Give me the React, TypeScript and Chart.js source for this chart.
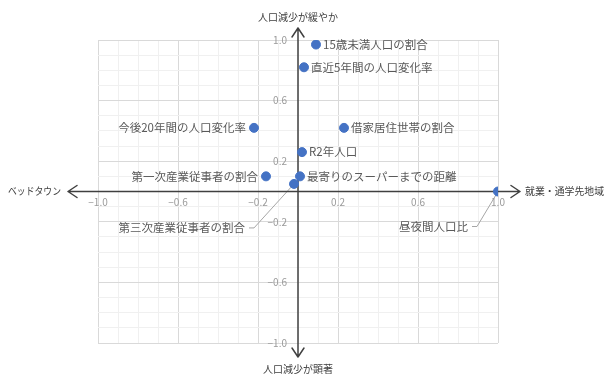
import { useEffect, useRef } from 'react';
import { Chart, registerables } from 'chart.js';

Chart.register(...registerables);

// Factor loadings: horizontal = ベッドタウン ↔ 就業・通学先地域, vertical = 人口減少が顕著 ↔ 緩やか
const factorNames = [
  '15歳未満人口の割合',
  '直近5年間の人口変化率',
  '今後20年間の人口変化率',
  '借家居住世帯の割合',
  'R2年人口',
  '第一次産業従事者の割合',
  '最寄りのスーパーまでの距離',
  '第三次産業従事者の割合',
  '昼夜間人口比',
];
const loadingX = [0.09, 0.03, -0.22, 0.23, 0.02, -0.16, 0.01, -0.02, 1.0];
const loadingY = [0.97, 0.82, 0.42, 0.42, 0.26, 0.1, 0.1, 0.05, 0.0];

const axisTickValues = [-1.0, -0.6, -0.2, 0.2, 0.6, 1.0];

const axisTitleTop = '人口減少が緩やか';
const axisTitleBottom = '人口減少が顕著';
const axisTitleLeft = 'ベッドタウン';
const axisTitleRight = '就業・通学先地域';

// Where each point's name sits relative to its marker
const labelSide: Record<string, 'left' | 'right' | 'callout'> = {
  '15歳未満人口の割合': 'right',
  '直近5年間の人口変化率': 'right',
  '今後20年間の人口変化率': 'left',
  '借家居住世帯の割合': 'right',
  'R2年人口': 'right',
  '第一次産業従事者の割合': 'left',
  '最寄りのスーパーまでの距離': 'right',
  '第三次産業従事者の割合': 'callout',
  '昼夜間人口比': 'callout',
};
// Leader-line elbows (pixel offsets from the marker) for callout labels
const calloutOffset: Record<string, { dx: number; dy: number }> = {
  '第三次産業従事者の割合': { dx: -40, dy: 44 },
  '昼夜間人口比': { dx: -21, dy: 35 },
};

const FONT = '"Noto Sans CJK JP", "Noto Sans", sans-serif';
const AXIS_COLOR = '#404040';
const TICK_COLOR = '#9a9a9a';
const LABEL_COLOR = '#595959';
const POINT_COLOR = '#4472C4';

const fmt = (v: number) => {
  const s = Math.abs(v).toFixed(1);
  return v < 0 ? '\u2212' + s : s;
};

const crossAxesPlugin = {
  id: 'crossAxes',
  beforeDatasetsDraw(chart: any) {
    const { ctx, scales } = chart;
    const xs = scales.x;
    const ys = scales.y;
    const x0 = xs.getPixelForValue(0);
    const y0 = ys.getPixelForValue(0);
    const left = xs.left - 30;
    const right = xs.right + 22;
    const top = ys.top - 12;
    const bottom = ys.bottom + 14;

    ctx.save();
    // leader lines of callout labels
    ctx.strokeStyle = '#a6a6a6';
    ctx.lineWidth = 1;
    factorNames.forEach((name, i) => {
      if (labelSide[name] !== 'callout') return;
      const px = xs.getPixelForValue(loadingX[i]);
      const py = ys.getPixelForValue(loadingY[i]);
      const o = calloutOffset[name];
      ctx.beginPath();
      ctx.moveTo(px, py);
      ctx.lineTo(px + o.dx, py + o.dy);
      ctx.lineTo(px + o.dx - 5, py + o.dy);
      ctx.stroke();
    });

    // cross axes with arrow heads
    ctx.strokeStyle = AXIS_COLOR;
    ctx.lineWidth = 1.5;
    ctx.lineCap = 'round';
    ctx.lineJoin = 'round';
    ctx.beginPath();
    ctx.moveTo(left, y0);
    ctx.lineTo(right, y0);
    ctx.moveTo(x0, top);
    ctx.lineTo(x0, bottom);
    const a = 9;
    const w = 6;
    ctx.moveTo(left + a, y0 - w);
    ctx.lineTo(left, y0);
    ctx.lineTo(left + a, y0 + w);
    ctx.moveTo(right - a, y0 - w);
    ctx.lineTo(right, y0);
    ctx.lineTo(right - a, y0 + w);
    ctx.moveTo(x0 - w, top + a);
    ctx.lineTo(x0, top);
    ctx.lineTo(x0 + w, top + a);
    ctx.moveTo(x0 - w, bottom - a);
    ctx.lineTo(x0, bottom);
    ctx.lineTo(x0 + w, bottom - a);
    ctx.stroke();

    // tick labels beside the axes
    ctx.font = `10px ${FONT}`;
    ctx.fillStyle = TICK_COLOR;
    ctx.textBaseline = 'middle';
    ctx.textAlign = 'center';
    axisTickValues.forEach((v) => {
      ctx.fillText(fmt(v), xs.getPixelForValue(v), y0 + 11);
    });
    ctx.textAlign = 'right';
    axisTickValues.forEach((v) => {
      ctx.fillText(fmt(v), x0 - 11, ys.getPixelForValue(v));
    });

    // axis end titles
    ctx.font = `10px ${FONT}`;
    ctx.fillStyle = AXIS_COLOR;
    ctx.textAlign = 'center';
    ctx.fillText(axisTitleTop, x0, top - 11);
    ctx.fillText(axisTitleBottom, x0, bottom + 12);
    ctx.textAlign = 'right';
    ctx.fillText(axisTitleLeft, left - 7, y0, 53);
    ctx.textAlign = 'left';
    ctx.fillText(axisTitleRight, right + 5, y0, 79);
    ctx.restore();
  },
  afterDatasetsDraw(chart: any) {
    const { ctx, scales } = chart;
    const xs = scales.x;
    const ys = scales.y;
    ctx.save();
    ctx.font = `11.5px ${FONT}`;
    ctx.fillStyle = LABEL_COLOR;
    ctx.textBaseline = 'middle';
    factorNames.forEach((name, i) => {
      const px = xs.getPixelForValue(loadingX[i]);
      const py = ys.getPixelForValue(loadingY[i]);
      const side = labelSide[name];
      if (side === 'right') {
        ctx.textAlign = 'left';
        ctx.fillText(name, px + 7, py);
      } else if (side === 'left') {
        ctx.textAlign = 'right';
        ctx.fillText(name, px - 8, py);
      } else {
        const o = calloutOffset[name];
        ctx.textAlign = 'right';
        ctx.fillText(name, px + o.dx - 9, py + o.dy);
      }
    });
    ctx.restore();
  },
};

const gridColor = (ctx: any) => {
  const v = Math.round(ctx.tick.value * 10);
  return (v + 10) % 4 === 0 ? '#d9d9d9' : '#f0f0f0';
};

export default function App() {
  const canvasRef = useRef<HTMLCanvasElement | null>(null);

  useEffect(() => {
    const canvas = canvasRef.current;
    if (!canvas) return;
    const points = factorNames.map((_, i) => ({ x: loadingX[i], y: loadingY[i] }));
    const axisCommon = {
      type: 'linear' as const,
      min: -1,
      max: 1,
      display: true,
      ticks: { display: false, stepSize: 0.1, maxTicksLimit: 30 },
      grid: { color: gridColor, lineWidth: 1, drawTicks: false },
      border: { display: false },
    };
    const chart = new Chart(canvas, {
      type: 'scatter',
      data: {
        datasets: [
          {
            data: points,
            backgroundColor: POINT_COLOR,
            borderColor: POINT_COLOR,
            pointRadius: 4.5,
            pointHoverRadius: 4.5,
          },
        ],
      },
      options: {
        responsive: false,
        animation: false,
        devicePixelRatio: 1,
        events: [],
        layout: { padding: { left: 98, right: 108, top: 40, bottom: 31 } },
        plugins: { legend: { display: false }, tooltip: { enabled: false } },
        scales: { x: axisCommon, y: axisCommon },
      },
      plugins: [crossAxesPlugin],
    });
    return () => chart.destroy();
  }, []);

  return (
    <div style={{ position: 'fixed', left: 0, top: 0, width: 606, height: 374, background: '#fff' }}>
      <canvas ref={canvasRef} width={606} height={374} />
    </div>
  );
}
